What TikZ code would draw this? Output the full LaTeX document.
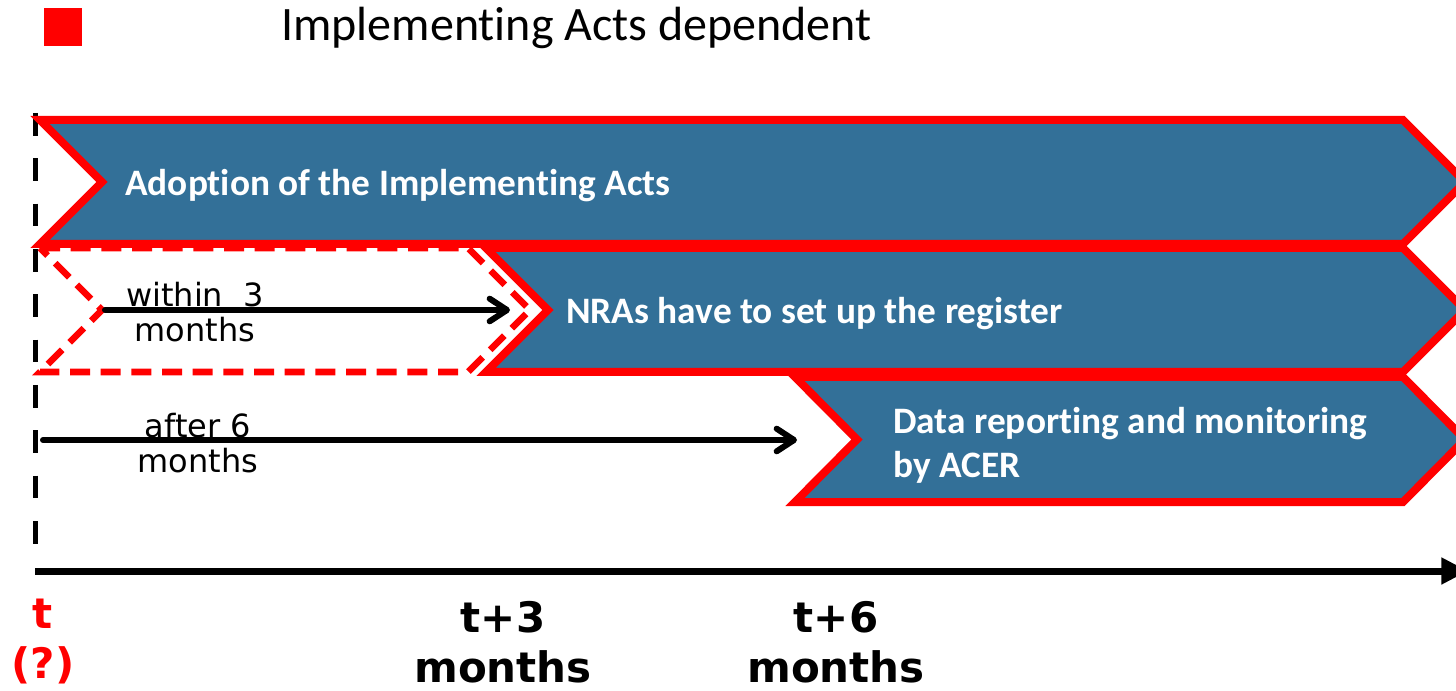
\documentclass[tikz,border=0pt]{standalone}
\usepackage{fontspec}
\setmainfont{Carlito}[Ligatures=NoCommon]
\newfontfamily\dejavu{DejaVu Sans}
\usetikzlibrary{arrows.meta}
\definecolor{barblue}{RGB}{51,112,152}
\definecolor{acerred}{RGB}{255,0,0}

\begin{document}
\begin{tikzpicture}[x=0.75pt,y=-0.75pt,
  phase/.style={fill=barblue,draw=acerred,line width=6pt,line join=miter},
  pending/.style={fill=white,draw=acerred,line width=5pt,dash pattern=on 15pt off 8pt},
  barlabel/.style={text=white,font=\bfseries\fontsize{28}{33}\selectfont,anchor=west,align=left,inner sep=0pt},
  spanlabel/.style={font=\dejavu\fontsize{24}{26}\selectfont,align=center,inner sep=0pt},
  ticklabel/.style={font=\dejavu\bfseries\fontsize{31.5}{37.5}\selectfont,align=center,inner sep=0pt},
  span/.style={line width=4.5pt,line cap=round,-{Straight Barb[length=13pt,width=17pt,line cap=round,round]}}
]
\useasboundingbox (0,0) rectangle (1456,691);

% legend
\node (legendmark) [fill=acerred,minimum size=28.5pt,inner sep=0pt] at (63,27) {};
\node (legendtext) [anchor=west,inner sep=0pt,font=\fontsize{36}{40}\selectfont] at (281,28) {Implementing Acts dependent};

% start marker
\draw[line width=3.75pt,dash pattern=on 17pt off 17pt] (35,113) -- (35,558);

% phase chevrons
\path[phase] (795,377) -- (1403,377) -- (1465,439.5) -- (1403,502) -- (795,502) -- (857,439.5) -- cycle;
\path[phase] (486,248) -- (1403,248) -- (1465,310) -- (1403,372) -- (486,372) -- (548,310) -- cycle;
\path[pending] (40,248) -- (468,248) -- (530,310) -- (468,372) -- (40,372) -- (102,310) -- cycle;
\path[phase] (40,120) -- (1403,120) -- (1465,182) -- (1403,244) -- (40,244) -- (102,182) -- cycle;

\node (adoption) [barlabel] at (125,186) {Adoption of the Implementing Acts};
\node (register) [barlabel] at (566,314) {NRAs have to set up the register};
\node (reporting) [barlabel] at (893,445) {Data reporting and monitoring\\by ACER};

% durations
\coordinate (s1) at (105,310);
\coordinate (e1) at (510,310);
\coordinate (s2) at (43,440);
\coordinate (e2) at (797,440);
\draw[span] (s1) -- (e1);
\draw[span] (s2) -- (e2);
\node (within) [spanlabel] at (195,312) {within\ \ 3\\months};
\node (after) [spanlabel] at (198,443) {after 6\\months};

% time axis
\coordinate (axisstart) at (35,571);
\coordinate (axisend) at (1468,571);
\draw[line width=5.25pt,-{Triangle[length=20pt,width=19pt]}] (axisstart) -- (axisend);

\node (tzero) [ticklabel,text=acerred] at (43,642) {t\\(?)};
\node (tthree) [ticklabel] at (503,642) {t+3\\months};
\node (tsix) [ticklabel] at (836,642) {t+6\\months};
\end{tikzpicture}
\end{document}
